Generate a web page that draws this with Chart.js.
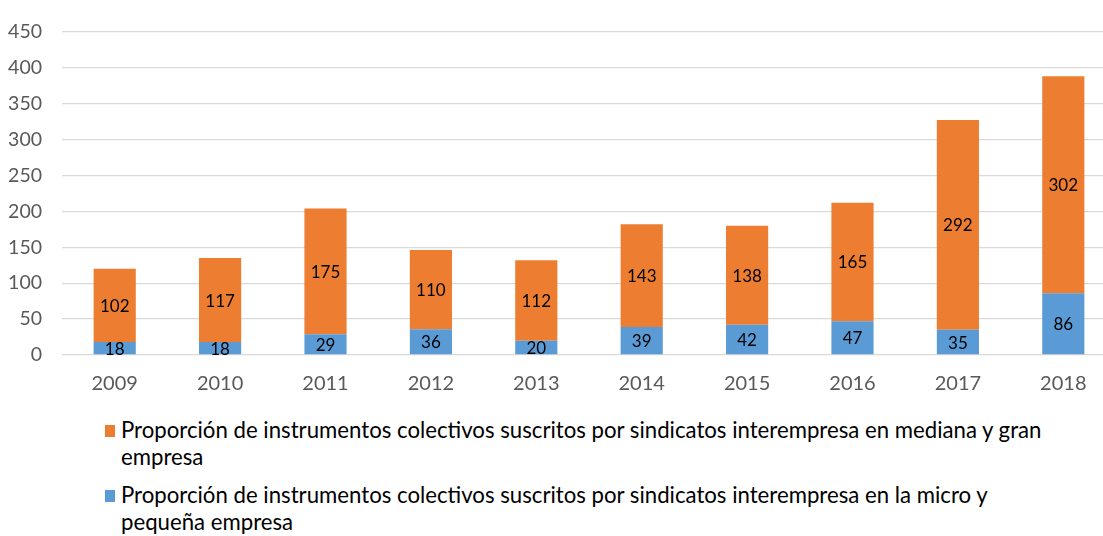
<!DOCTYPE html>
<html>
<head>
<meta charset="utf-8">
<script src="https://cdn.jsdelivr.net/npm/chart.js@4.4.0/dist/chart.umd.min.js"></script>
<style>
  html, body { margin: 0; padding: 0; background: #fff; overflow: hidden; width: 1103px; height: 536px; }
  #wrap { position: absolute; left: 0; top: 0; width: 1125px; height: 410px; }
  .leyenda { position: absolute; left: 121px; font-family: Lato, sans-serif; font-size: 22.2px; line-height: 27px; color: #000; white-space: nowrap; }
  .cuadro { position: absolute; left: 105px; width: 10px; height: 12px; }
</style>
</head>
<body>
<div id="wrap"><canvas id="myChart" width="1125" height="410"></canvas></div>

<div class="cuadro" style="top:425px;background:#ED7D31"></div>
<div class="leyenda" id="ley1" style="top:416px"></div>
<div class="cuadro" style="top:490px;background:#5B9BD5"></div>
<div class="leyenda" id="ley2" style="top:481px"></div>

<script>
var anios = ['2009', '2010', '2011', '2012', '2013', '2014', '2015', '2016', '2017', '2018'];
var microPeq = [18, 18, 29, 36, 20, 39, 42, 47, 35, 86];
var medianaGran = [102, 117, 175, 110, 112, 143, 138, 165, 292, 302];
var nombreMediana = ['Proporción de instrumentos colectivos suscritos por sindicatos interempresa en mediana y gran', 'empresa'];
var nombreMicro = ['Proporción de instrumentos colectivos suscritos por sindicatos interempresa en la micro y', 'pequeña empresa'];

document.getElementById('ley1').innerHTML = nombreMediana.join('<br>');
document.getElementById('ley2').innerHTML = nombreMicro.join('<br>');

// etiquetas en el centro de cada segmento
var etiquetas = {
    id: 'etiquetas',
    afterDatasetsDraw: function(chart) {
        var c = chart.ctx;
        c.save();
        c.font = '17px Lato';
        c.fillStyle = '#000';
        c.textAlign = 'center';
        c.textBaseline = 'middle';
        chart.data.datasets.forEach(function(ds, i) {
            var meta = chart.getDatasetMeta(i);
            meta.data.forEach(function(bar, j) {
                var p = bar.getProps(['x', 'y', 'base'], true);
                c.fillText(ds.data[j], p.x, (p.y + p.base) / 2 + 1);
            });
        });
        c.restore();
    }
};

var ctx = document.getElementById('myChart');
var myChart = new Chart(ctx, {
    type: 'bar',
    data: {
        labels: anios,
        datasets: [{
            label: nombreMicro.join(' '),
            data: microPeq,
            backgroundColor: '#5B9BD5',
            barPercentage: 0.4,
            categoryPercentage: 1
        }, {
            label: nombreMediana.join(' '),
            data: medianaGran,
            backgroundColor: '#ED7D31',
            barPercentage: 0.4,
            categoryPercentage: 1
        }]
    },
    options: {
        responsive: false,
        animation: false,
        layout: { padding: { top: 19, right: 9, left: 0, bottom: 0 } },
        plugins: {
            legend: { display: false },
            tooltip: { enabled: false }
        },
        scales: {
            x: {
                stacked: true,
                grid: { display: false },
                border: { display: false },
                ticks: { color: '#595959', font: { family: 'Lato', size: 20 }, padding: 9 },
                afterFit: function(s) { s.height = 55; }
            },
            y: {
                stacked: true,
                min: 0,
                max: 450,
                grid: { color: '#D9D9D9', lineWidth: 1.3, drawTicks: false },
                border: { display: false },
                ticks: { stepSize: 50, color: '#595959', font: { family: 'Lato', size: 19.5 }, padding: 20 },
                afterFit: function(s) { s.width = 62; }
            }
        }
    },
    plugins: [etiquetas]
});
</script>
</body>
</html>
